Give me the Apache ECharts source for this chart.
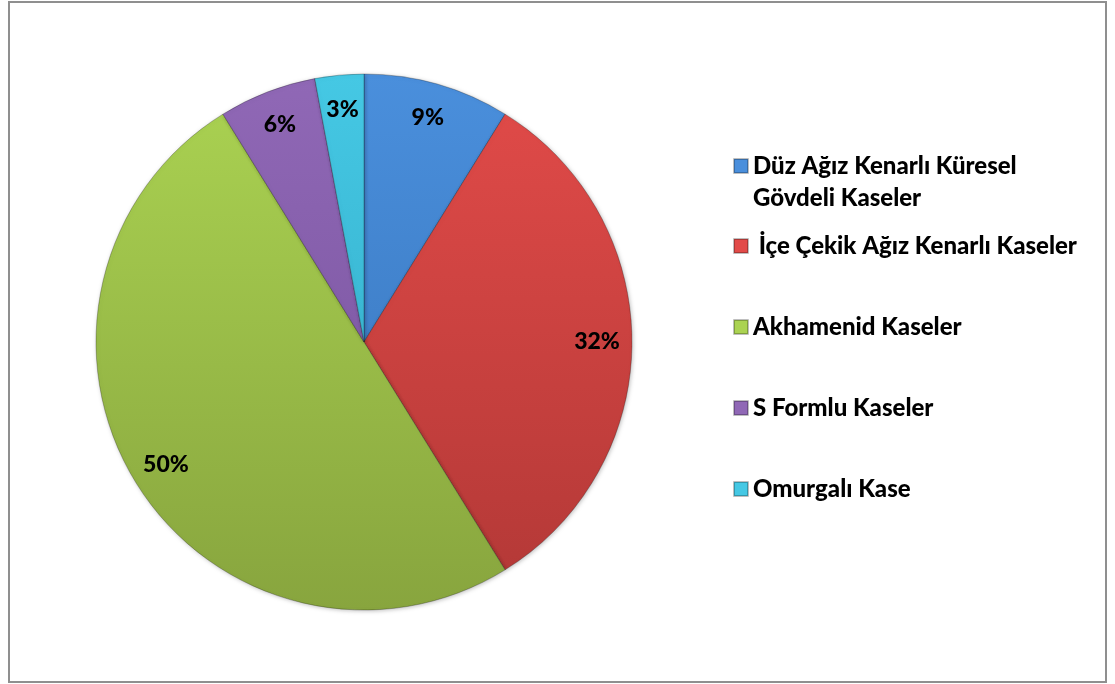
<!DOCTYPE html>
<html>
<head>
<meta charset="utf-8">
<script src="https://cdn.jsdelivr.net/npm/echarts@6/dist/echarts.min.js"></script>
<style>
  html, body { margin: 0; padding: 0; background: #fff; }
  #main { width: 1115px; height: 684px; }
</style>
</head>
<body>
<div id="main"></div>
<script>
// kase tipleri (adet)
var names = ['Düz Ağız Kenarlı Küresel\nGövdeli Kaseler', ' İçe Çekik Ağız Kenarlı Kaseler', 'Akhamenid Kaseler', 'S Formlu Kaseler', 'Omurgalı Kase'];
var values = [3, 11, 17, 2, 1];
var topColors = ['#4a8fdc', '#e24b49', '#abd352', '#9068b6', '#45c8e4'];
var bottomColors = ['#3672b8', '#b23836', '#88a53e', '#74509a', '#2fa6c2'];

var cx = 364, cy = 342, R = 268, labelR = 233;
var total = values.reduce(function (a, b) { return a + b; }, 0);

var chart = echarts.init(document.getElementById('main'));

var pieData = names.map(function (n, i) {
  return {
    name: n,
    value: values[i],
    itemStyle: {
      color: {
        type: 'linear', x: 0, y: cy - R, x2: 0, y2: cy + R, global: true,
        colorStops: [{ offset: 0, color: topColors[i] }, { offset: 1, color: bottomColors[i] }]
      }
    }
  };
});

// legend: one block per item so the spacing matches the original
var legendTops = [113, 225, 306, 387, 468];
var legends = names.map(function (n, i) {
  return {
    data: [n],
    left: 728,
    top: legendTops[i],
    itemWidth: 14,
    itemHeight: 14,
    itemGap: 0,
    icon: 'rect',
    selectedMode: false,
    formatter: function (name) {
      // empty first line keeps the marker on the first text line
      return name.indexOf('\n') >= 0 ? '\n' + name : name;
    },
    textStyle: {
      fontFamily: 'Lato',
      fontWeight: 900,
      fontSize: 24,
      lineHeight: 32,
      color: '#000',
      padding: [0, 0, 0, 0]
    }
  };
});

chart.setOption({
  animation: false,
  legend: legends,
  graphic: [{
    type: 'rect',
    shape: { x: 9, y: 2, width: 1097, height: 680 },
    style: { fill: 'none', stroke: '#8f8f8f', lineWidth: 2 },
    silent: true
  }],
  series: [{
    type: 'pie',
    center: [cx, cy],
    radius: [0, R],
    startAngle: 90,
    clockwise: true,
    avoidLabelOverlap: false,
    itemStyle: {
      borderColor: 'rgba(0,0,0,0.25)',
      borderWidth: 1,
      shadowColor: 'rgba(0,0,0,0.25)',
      shadowBlur: 4,
      shadowOffsetX: 1,
      shadowOffsetY: 1
    },
    label: {
      show: true,
      position: 'inside',
      formatter: function (p) { return Math.round(p.percent) + '%'; },
      fontFamily: 'Lato',
      fontWeight: 900,
      fontSize: 23,
      color: '#000'
    },
    labelLine: { show: false },
    labelLayout: function (params) {
      var i = params.dataIndex;
      var before = 0;
      for (var k = 0; k < i; k++) before += values[k];
      var mid = (before + values[i] / 2) / total * Math.PI * 2;
      return {
        x: cx + labelR * Math.sin(mid),
        y: cy - labelR * Math.cos(mid),
        align: 'center',
        verticalAlign: 'middle'
      };
    },
    emphasis: { disabled: true },
    data: pieData
  }]
});
</script>
</body>
</html>
